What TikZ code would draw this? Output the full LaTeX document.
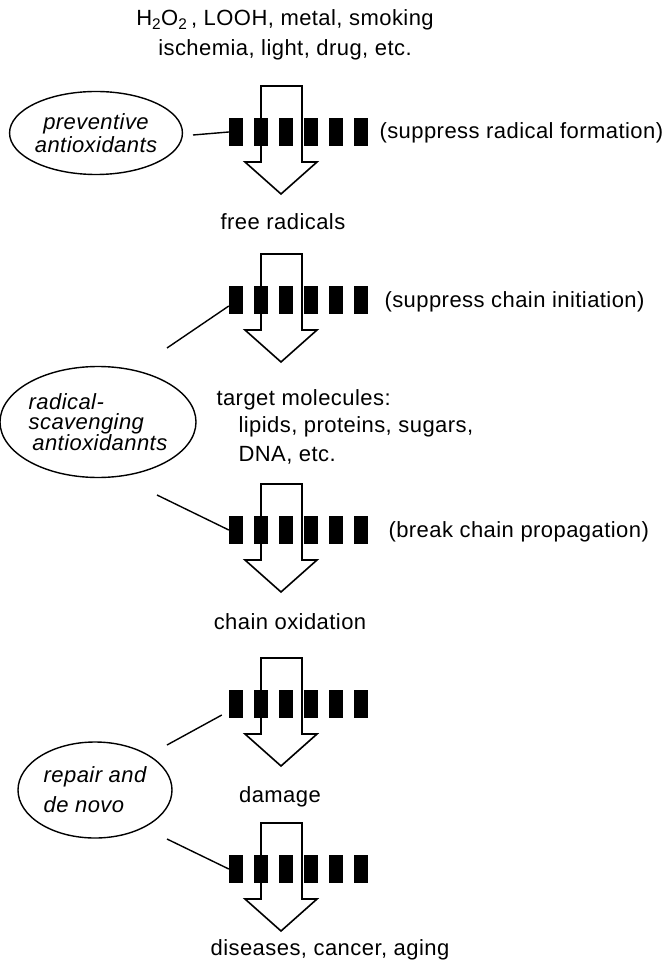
\documentclass[tikz,border=0pt]{standalone}
\usepackage{fontspec}
\setmainfont{Liberation Sans}[LetterSpace=2.0]
\usepackage{tikz}
\usetikzlibrary{shapes.geometric,calc}
\newcommand{\hollowarrow}[1]{%
  \draw[hollow] (261,#1-46) -- (261,#1+30) -- (245,#1+30) -- (281,#1+62)
    -- (317,#1+30) -- (302,#1+30) -- (302,#1-46) -- cycle;}

\begin{document}
\begin{tikzpicture}[x=1pt,y=-1pt,font=\fontsize{22}{30}\selectfont]
  \tikzset{bar/.style={fill=black,inner sep=0pt,minimum width=14pt,minimum height=28pt}}
  \tikzset{hollow/.style={draw,fill=white,line width=1.6pt,line join=miter}}
  \tikzset{oval/.style={draw,ellipse,line width=1.4pt,inner sep=0pt,font=\fontsize{22}{#1}\selectfont\itshape}}
  \tikzset{link/.style={line width=1.4pt}}
  \useasboundingbox[fill=white] (0,0) rectangle (665,965);
  \node (causes) at (285,35) [align=center] {H\textsubscript{2}O\textsubscript{2}\,, LOOH, metal, smoking\\ischemia, light, drug, etc.};
  \foreach \r/\y in {1/132,2/300,3/530,4/704,5/869} {
    \hollowarrow{\y}
    \foreach \i in {0,...,5}
      \node[bar] (b\r-\i) at (236+25*\i,\y) {};
  }
  \node (radicals) at (283,222) {free radicals};
  \node[anchor=west] (targets) at (213,400) {target molecules:};
  \node[anchor=west] (kinds) at (235,427) {lipids, proteins, sugars,};
  \node[anchor=west] (dna) at (235,455) {DNA, etc.};
  \node (oxidation) at (290,622) {chain oxidation};
  \node (damage) at (280,797) {damage};
  \node (diseases) at (330,950) {diseases, cancer, aging};
  \node[anchor=west] (formation) at (376,133) {(suppress radical formation)};
  \node[anchor=west] (initiation) at (381,302) {(suppress chain initiation)};
  \node[anchor=west] (propagation) at (385,532) {(break chain propagation)};
  \node[oval=23,align=center,minimum width=152pt,minimum height=83pt] (preventive) at (96,133) {preventive\\antioxidants};
  \node[oval=20,align=left,minimum width=167pt,minimum height=111pt] (scavenging) at (98,422) {radical-\\scavenging\\\,antioxidannts};
  \node[oval=30,align=left,minimum width=154pt,minimum height=96pt] (repair) at (95,790) {repair and\\de novo};
  \coordinate (p1) at (193,135);
  \coordinate (s1) at (167,348);
  \coordinate (s2) at (157,495);
  \coordinate (r1) at (167,745);
  \coordinate (r2) at (167,839);
  \draw[link] (p1) -- (b1-0.west);
  \draw[link] (s1) -- ([yshift=-6pt]b2-0.west);
  \draw[link] (s2) -- (b3-0.west);
  \draw[link] (r1) -- ([xshift=-7pt,yshift=-11pt]b4-0.west);
  \draw[link] (r2) -- (b5-0.west);
\end{tikzpicture}
\end{document}
